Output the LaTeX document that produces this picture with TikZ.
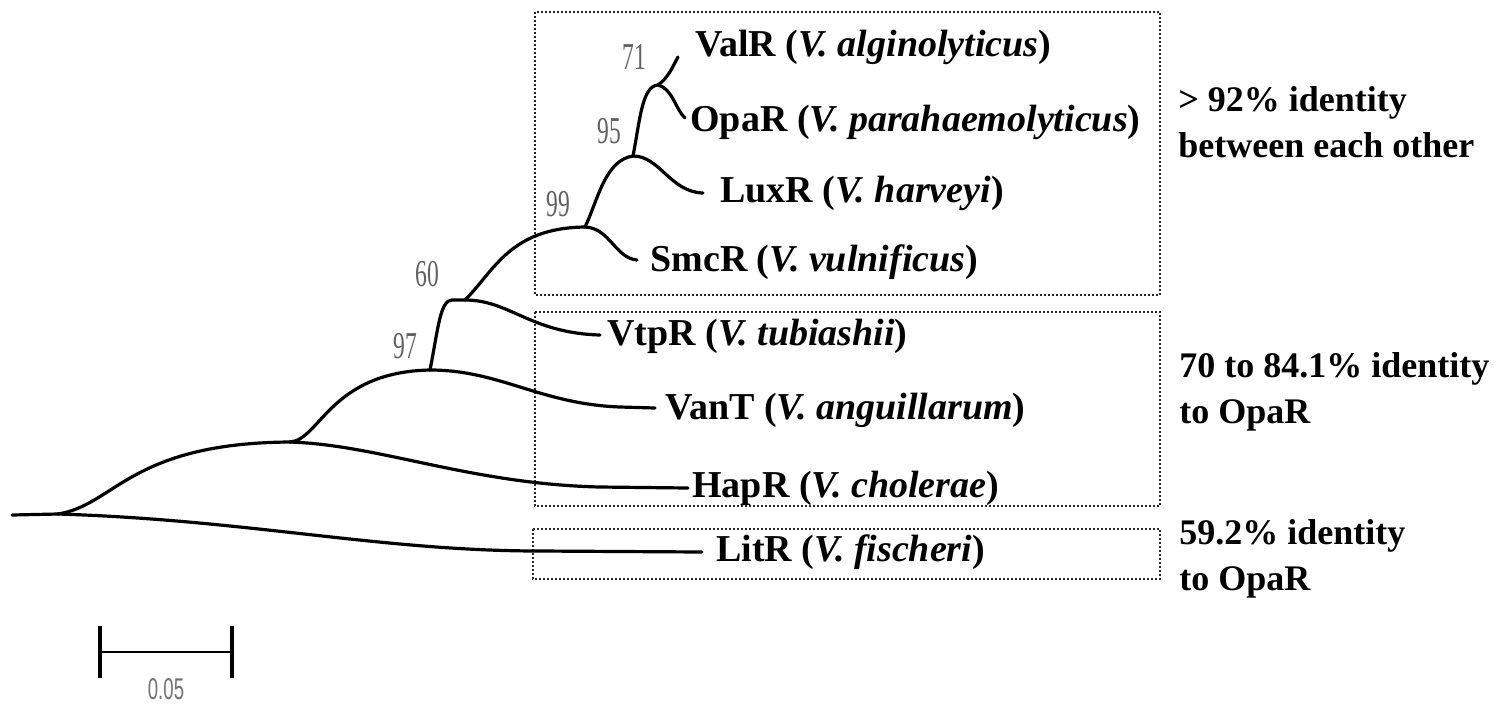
\documentclass[tikz,border=0pt]{standalone}
\usepackage{fontspec}
\setmainfont{Liberation Serif}
\newfontfamily\barfont{Liberation Sans}
\begin{document}
\begin{tikzpicture}[x=0.5pt,y=-0.5pt,
  branch/.style={line width=1.6pt, line cap=round, line join=round},
  dotbox/.style={line width=1.1pt, dash pattern=on 1pt off 1pt, black!85},
  taxon/.style={anchor=west, inner sep=0pt, font=\fontsize{19}{22}\selectfont\bfseries},
  boot/.style={inner sep=0pt, text=black!62, font=\fontsize{19}{19}\selectfont},
  note/.style={anchor=west, inner sep=0pt, align=left, font=\fontsize{18}{23}\selectfont\bfseries}]
\fill[white] (0,0) rectangle (1511,709);
\useasboundingbox (0,0) rectangle (1511,709);

% dotted group boxes
\draw[dotbox] (535,12) rectangle (1160,295);
\draw[dotbox] (535,312) rectangle (1160,506);
\draw[dotbox] (533,529) rectangle (1160,579);

% tree nodes
\coordinate (r0) at (12,515);
\coordinate (R) at (58,514);
\coordinate (A) at (290,442);
\coordinate (B) at (430,370);
\coordinate (C) at (452,300);
\coordinate (C2) at (465,300);
\coordinate (D) at (585,227);
\coordinate (E) at (633,156);
\coordinate (F) at (658,85);
% leaf ends
\coordinate (eValR) at (678,57);
\coordinate (eOpaR) at (685,118);
\coordinate (eLuxR) at (703,193);
\coordinate (eSmcR) at (637,260);
\coordinate (eVtpR) at (600,335);
\coordinate (eVanT) at (655,408);
\coordinate (eHapR) at (688,488);
\coordinate (eLitR) at (702,552);

% branches
\draw[branch] (r0) -- (R);
\draw[branch] (R) .. controls (250,520) and (380,551) .. (540,551) -- (eLitR);
\draw[branch] (R) .. controls (115,505) and (130,443) .. (A);
\draw[branch] (A) .. controls (380,445) and (470,484) .. (600,487) -- (eHapR);
\draw[branch] (A) .. controls (320,440) and (330,372) .. (B);
\draw[branch] (B) .. controls (500,370) and (540,404) .. (620,407) -- (eVanT);
\draw[branch] (B) .. controls (438,330) and (440,300) .. (C) -- (C2);
\draw[branch] (C2) .. controls (510,300) and (530,333) .. (eVtpR);
\draw[branch] (C2) .. controls (495,270) and (510,228) .. (D);
\draw[branch] (D) .. controls (610,228) and (615,258) .. (eSmcR);
\draw[branch] (D) .. controls (598,200) and (605,160) .. (E);
\draw[branch] (E) .. controls (660,156) and (670,192) .. (eLuxR);
\draw[branch] (E) .. controls (640,120) and (642,86) .. (F);
\draw[branch] (F) .. controls (668,78) and (672,68) .. (eValR);
\draw[branch] (F) .. controls (672,88) and (676,110) .. (eOpaR);

% bootstrap values
\node[boot] (b71) at (634,57) {\scalebox{0.62}[1]{71}};
\node[boot] (b95) at (609,131) {\scalebox{0.62}[1]{95}};
\node[boot] (b99) at (558,204) {\scalebox{0.62}[1]{99}};
\node[boot] (b60) at (427,274) {\scalebox{0.62}[1]{60}};
\node[boot] (b97) at (405,346) {\scalebox{0.62}[1]{97}};

% taxa
\node[taxon] (tValR) at (695,47) {ValR (\textit{V. alginolyticus})};
\node[taxon] (tOpaR) at (690,122) {OpaR (\textit{V. parahaemolyticus})};
\node[taxon] (tLuxR) at (720,193) {LuxR (\textit{V. harveyi})};
\node[taxon] (tSmcR) at (650,262) {SmcR (\textit{V. vulnificus})};
\node[taxon] (tVtpR) at (607,336) {VtpR (\textit{V. tubiashii})};
\node[taxon] (tVanT) at (665,410) {VanT (\textit{V. anguillarum})};
\node[taxon] (tHapR) at (692,488) {HapR (\textit{V. cholerae})};
\node[taxon] (tLitR) at (716,552) {LitR (\textit{V. fischeri})};

% group notes
\node[note] (n1) at (1178,122) {> 92\% identity\\between each other};
\node[note] (n2) at (1179,392) {70 to 84.1\% identity\\to OpaR};
\node[note] (n3) at (1179,559) {59.2\% identity\\to OpaR};

% scale bar
\coordinate (sL) at (100,652);
\coordinate (sR) at (232,652);
\draw[line width=1.4pt] (sL) -- (sR);
\draw[line width=2.2pt] ([yshift=-13]sL) -- ([yshift=13]sL);
\draw[line width=2.2pt] ([yshift=-13]sR) -- ([yshift=13]sR);
\node[inner sep=0pt, text=black!55, font=\barfont\fontsize{15}{15}\selectfont] (sbl) at (166,689) {\scalebox{0.62}[1]{0.05}};
\end{tikzpicture}
\end{document}
